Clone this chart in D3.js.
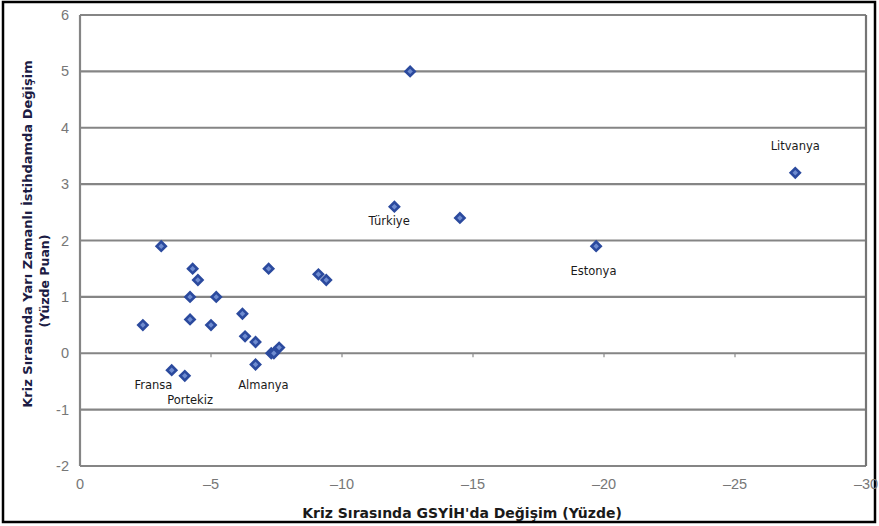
<!DOCTYPE html>
<html>
<head>
<meta charset="utf-8">
<script src="https://cdn.jsdelivr.net/npm/d3@7"></script>
<style>
  body { margin: 0; background: #fff; }
  svg { display: block; }
</style>
</head>
<body>
<svg id="chart" width="879" height="526"></svg>
<script>
// GSYİH değişimi (x) ve yarı zamanlı istihdam değişimi (y)
const gdpChange = [-3.1, -12.6, -27.3, -12.0, -14.5, -19.7, -4.3, -4.5, -4.2, -5.2,
  -2.4, -4.2, -5.0, -7.2, -9.1, -9.4, -6.2, -6.3, -6.7, -6.7, -7.3, -7.4, -7.6, -3.5, -4.0];
const partTimeChange = [1.9, 5.0, 3.2, 2.6, 2.4, 1.9, 1.5, 1.3, 1.0, 1.0,
  0.5, 0.6, 0.5, 1.5, 1.4, 1.3, 0.7, 0.3, 0.2, -0.2, 0.0, 0.0, 0.1, -0.3, -0.4];

// etiketli ülkeler
const labelNames = ["Fransa", "Portekiz", "Almanya", "Türkiye", "Estonya", "Litvanya"];
const labelX = [-2.8, -4.2, -7.0, -11.8, -19.6, -27.3];
const labelY = [-0.64, -0.9, -0.64, 2.28, 1.38, 3.6];

const xTicks = [0, -5, -10, -15, -20, -25, -30];
const yTicks = [-2, -1, 0, 1, 2, 3, 4, 5, 6];

const svg = d3.select("#chart");
const margin = { left: 80, right: 13, top: 15, bottom: 60 };
const W = 879, H = 526;

const x = d3.scaleLinear().domain([0, -30]).range([margin.left, W - margin.right]);
const y = d3.scaleLinear().domain([-2, 6]).range([H - margin.bottom, margin.top]);

// dış çerçeve
svg.append("rect")
  .attr("x", 3).attr("y", 2).attr("width", 872).attr("height", 520)
  .attr("fill", "#fff").attr("stroke", "#000").attr("stroke-width", 2.5);

// yatay ızgara çizgileri
svg.append("g").selectAll("line")
  .data(yTicks)
  .join("line")
  .attr("x1", x(0)).attr("x2", x(-30))
  .attr("y1", d => y(d)).attr("y2", d => y(d))
  .attr("stroke", "#858585").attr("stroke-width", 2.2);

// sol ve sağ kenar
svg.append("line")
  .attr("x1", x(0)).attr("x2", x(0)).attr("y1", y(6)).attr("y2", y(-2))
  .attr("stroke", "#858585").attr("stroke-width", 2.2);
svg.append("line")
  .attr("x1", x(-30)).attr("x2", x(-30)).attr("y1", y(6)).attr("y2", y(-2))
  .attr("stroke", "#757575").attr("stroke-width", 2.2);

// sıfır çizgisinde küçük işaretler
svg.append("g").selectAll("line")
  .data(xTicks.slice(1, -1))
  .join("line")
  .attr("x1", d => x(d)).attr("x2", d => x(d))
  .attr("y1", y(0)).attr("y2", y(0) + 4)
  .attr("stroke", "#8a8a8a").attr("stroke-width", 1.2);

// eksen etiketleri
const fmtX = d => d === 0 ? "0" : "\u2013" + Math.abs(d);
svg.append("g").selectAll("text")
  .data(xTicks)
  .join("text")
  .attr("x", d => x(d)).attr("y", 489)
  .attr("text-anchor", "middle")
  .attr("font-family", "Liberation Sans, Arial, sans-serif")
  .attr("font-size", 14.5).attr("fill", "#777")
  .text(fmtX);

svg.append("g").selectAll("text")
  .data(yTicks)
  .join("text")
  .attr("x", 69).attr("y", d => y(d) + 5)
  .attr("text-anchor", "end")
  .attr("font-family", "Liberation Sans, Arial, sans-serif")
  .attr("font-size", 14.5).attr("fill", "#777")
  .text(d => d);

// eksen başlıkları
svg.append("text")
  .attr("x", 462).attr("y", 518)
  .attr("text-anchor", "middle")
  .attr("font-family", "DejaVu Sans, sans-serif")
  .attr("font-size", 14).attr("font-weight", "bold").attr("fill", "#1a1a1a")
  .text("Kriz Sırasında GSYİH'da Değişim (Yüzde)");

svg.append("text")
  .attr("transform", "translate(32,234) rotate(-90)")
  .attr("text-anchor", "middle")
  .attr("font-family", "DejaVu Sans, sans-serif")
  .attr("font-size", 13).attr("font-weight", "bold").attr("fill", "#1c1c44")
  .text("Kriz Sırasında Yarı Zamanlı İstihdamda Değişim");

svg.append("text")
  .attr("transform", "translate(49,281) rotate(-90)")
  .attr("text-anchor", "middle")
  .attr("font-family", "DejaVu Sans, sans-serif")
  .attr("font-size", 12.5).attr("font-weight", "bold").attr("fill", "#1c1c44")
  .text("(Yüzde Puan)");

// noktalar
const pts = gdpChange.map((d, i) => [d, partTimeChange[i]]);
const diamond = d3.symbol().type(d3.symbolSquare).size(42);
svg.append("g").selectAll("path")
  .data(pts)
  .join("path")
  .attr("d", diamond)
  .attr("transform", d => `translate(${x(d[0])},${y(d[1])}) rotate(45)`)
  .attr("fill", "#6f8cd0")
  .attr("stroke", "#2b4a9e").attr("stroke-width", 2.6);

// ülke etiketleri
svg.append("g").selectAll("text")
  .data(labelNames)
  .join("text")
  .attr("x", (d, i) => x(labelX[i])).attr("y", (d, i) => y(labelY[i]))
  .attr("text-anchor", "middle")
  .attr("font-family", "DejaVu Sans, sans-serif")
  .attr("font-size", 11.5).attr("fill", "#1a1a1a")
  .text(d => d);
</script>
</body>
</html>
